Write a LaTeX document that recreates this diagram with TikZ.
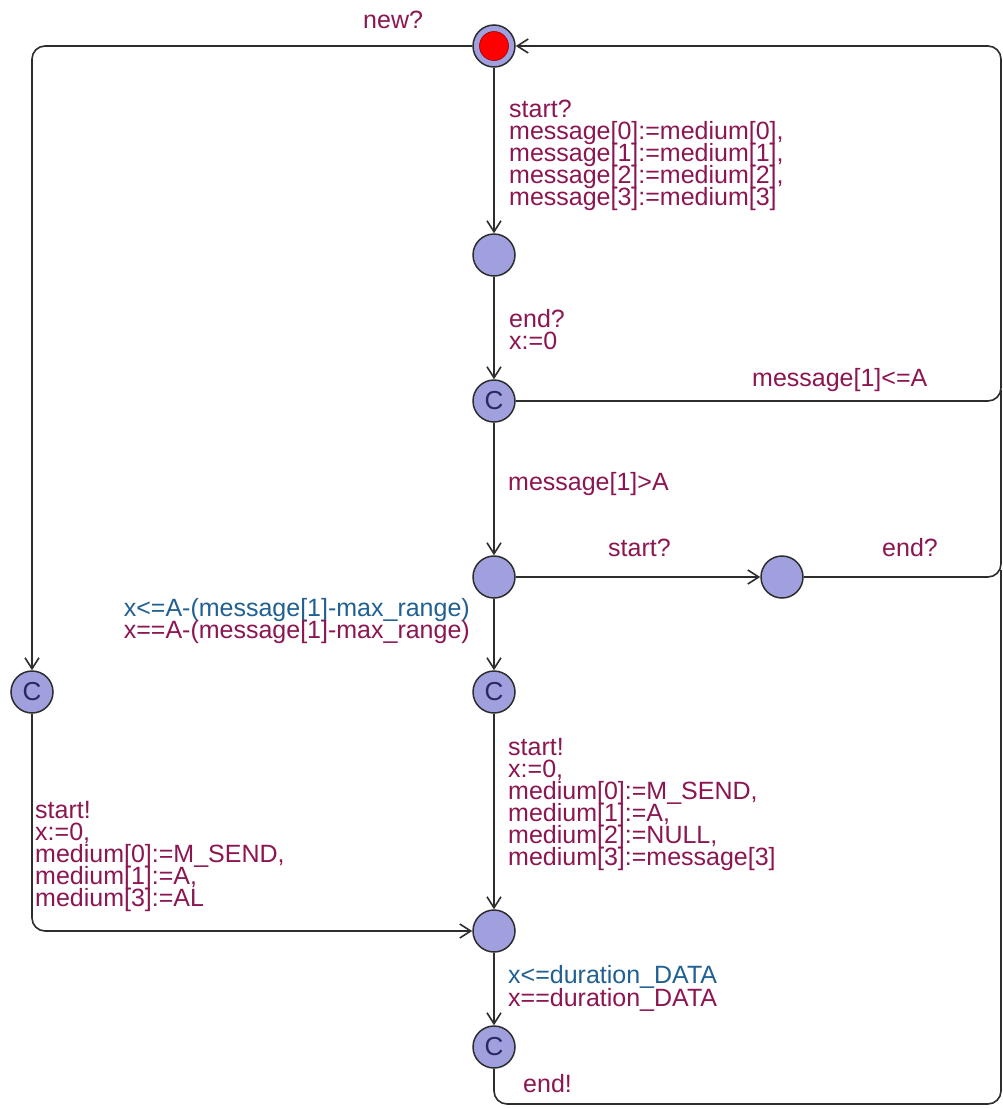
\documentclass[tikz,border=0pt]{standalone}
\usepackage{fontspec}
\setmainfont{Liberation Sans}
\usetikzlibrary{arrows.meta}
\definecolor{lblc}{RGB}{140,22,82}
\definecolor{invc}{RGB}{32,96,146}
\definecolor{locc}{RGB}{160,160,222}
\definecolor{edgec}{RGB}{45,45,45}
\definecolor{cc}{RGB}{40,40,100}
\begin{document}
\begin{tikzpicture}[x=1pt,y=-1pt,
  loc/.style={circle,draw=edgec,line width=1.5pt,fill=locc,minimum size=42pt,inner sep=0pt},
  comm/.style={loc,font=\fontsize{26}{26}\selectfont,text=cc},
  core/.style={circle,draw=red!60!black,line width=0.6pt,fill=red,minimum size=29pt,inner sep=0pt},
  conn/.style={draw=edgec,line width=1.6pt,rounded corners=13pt},
  arr/.style={conn,-{Straight Barb[length=11pt,width=14pt,line width=1.6pt]}},
  lbl/.style={anchor=base west,inner sep=0pt,text=lblc,font=\fontsize{25}{22}\selectfont},
  inv/.style={lbl,text=invc},
  rlbl/.style={lbl,anchor=base east},
  rinv/.style={inv,anchor=base east}]
\useasboundingbox (0,0) rectangle (1003,1109);
\fill[white] (0,0) rectangle (1003,1109);

% locations
\node[loc] (init) at (494,46) {};
\node[core] (initcore) at (init.center) {};
\node[loc] (n1) at (494,255) {};
\node[comm] (n2) at (494,401) {C};
\node[loc] (n3) at (494,577) {};
\node[loc] (n4) at (782,577) {};
\node[comm] (n5) at (494,692) {C};
\node[comm] (nL) at (32,692) {C};
\node[loc] (n6) at (494,931) {};
\node[comm] (n7) at (494,1047) {C};

% edges
\draw[arr] (init.west) -| (nL.north);
\draw[arr] (init) -- (n1);
\draw[arr] (n1) -- (n2);
\draw[arr] (n2.east) -- (1001,401) -- (1001,46) -- (init.east);
\draw[arr] (n2) -- (n3);
\draw[arr] (n3) -- (n4);
\draw[conn] (n4.east) -- (1001,577) -- (1001,390);
\draw[arr] (n3) -- (n5);
\draw[arr] (n5) -- (n6);
\draw[arr] (nL.south) |- (n6.west);
\draw[arr] (n6) -- (n7);
\draw[conn] (n7.south) -- (494,1104) -- (1001,1104) -- (1001,570);

% labels
\node[lbl] (tnew) at (363,28) {new?};
\node[lbl] (ta1) at (509,117) {start?};
\node[lbl] (ta2) at (509,139) {message[0]:=medium[0],};
\node[lbl] (ta3) at (509,161) {message[1]:=medium[1],};
\node[lbl] (ta4) at (509,183) {message[2]:=medium[2],};
\node[lbl] (ta5) at (509,205) {message[3]:=medium[3]};
\node[lbl] (tb1) at (509,327) {end?};
\node[lbl] (tb2) at (509,349) {x:=0};
\node[lbl] (tc) at (752,386) {message[1]<=A};
\node[lbl] (td) at (508,490) {message[1]>A};
\node[lbl] (te) at (608,556) {start?};
\node[lbl] (tf) at (882,556) {end?};
\node[rinv] (tg1) at (470,616) {x<=A-(message[1]-max\_range)};
\node[rlbl] (tg2) at (470,638) {x==A-(message[1]-max\_range)};
\node[lbl] (th1) at (508,755) {start!};
\node[lbl] (th2) at (508,777) {x:=0,};
\node[lbl] (th3) at (508,799) {medium[0]:=M\_SEND,};
\node[lbl] (th4) at (508,821) {medium[1]:=A,};
\node[lbl] (th5) at (508,843) {medium[2]:=NULL,};
\node[lbl] (th6) at (508,865) {medium[3]:=message[3]};
\node[lbl] (ti1) at (35,818) {start!};
\node[lbl] (ti2) at (35,840) {x:=0,};
\node[lbl] (ti3) at (35,862) {medium[0]:=M\_SEND,};
\node[lbl] (ti4) at (35,884) {medium[1]:=A,};
\node[lbl] (ti5) at (35,906) {medium[3]:=AL};
\node[inv] (tj1) at (508,983) {x<=duration\_DATA};
\node[lbl] (tj2) at (508,1006) {x==duration\_DATA};
\node[lbl] (tk) at (523,1092) {end!};
\end{tikzpicture}
\end{document}
